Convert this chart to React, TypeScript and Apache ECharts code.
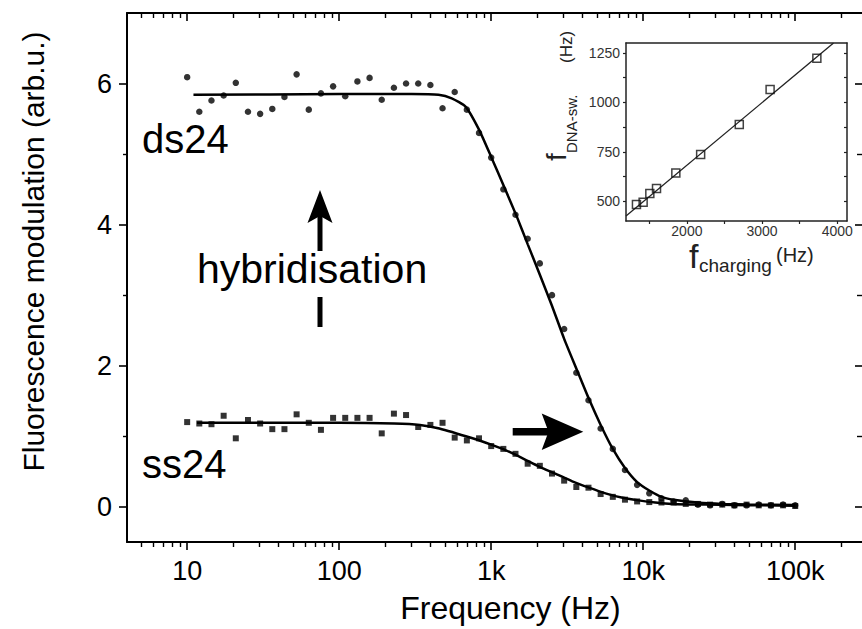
import React, { useEffect, useRef } from 'react';
import * as echarts from 'echarts';

// ---------- main plot data ----------
const freqHz = [
  10, 12.02, 14.45, 17.38, 20.89, 25.12, 30.2, 36.31, 43.65, 52.48,
  63.1, 75.86, 91.2, 109.6, 131.8, 158.5, 190.5, 229.1, 275.4, 331.1,
  398.1, 478.6, 575.4, 691.8, 831.8, 1000, 1202, 1445, 1738, 2089,
  2512, 3020, 3631, 4365, 5248, 6310, 7586, 9120, 10965, 13183,
  15849, 19055, 22909, 27542, 33113, 39811, 47863, 57544, 69183, 83176,
  100000,
];
const ds24 = [
  6.09, 5.6, 5.76, 5.83, 6.01, 5.6, 5.57, 5.64, 5.81, 6.13,
  5.63, 5.86, 5.96, 5.82, 6.03, 6.08, 5.77, 5.94, 6.0, 6.0,
  5.98, 5.65, 5.88, 5.63, 5.3, 4.95, 4.5, 4.14, 3.8, 3.45,
  3.0, 2.52, 1.9, 1.51, 1.11, 0.82, 0.52, 0.31, 0.19, 0.12,
  0.075, 0.09, 0.03, 0.02, 0.04, 0.02, 0.02, 0.03, 0.02, 0.03,
  0.02,
];
const ss24 = [
  1.2, 1.18, 1.17, 1.29, 0.97, 1.23, 1.18, 1.1, 1.1, 1.31,
  1.19, 1.09, 1.26, 1.26, 1.26, 1.26, 1.04, 1.32, 1.3, 1.13,
  1.16, 1.19, 0.98, 0.94, 0.97, 0.86, 0.82, 0.75, 0.61, 0.58,
  0.47, 0.37, 0.28, 0.27, 0.18, 0.14, 0.1, 0.075, 0.066, 0.06,
  0.06, 0.04, 0.04, 0.03, 0.03, 0.02, 0.03, 0.02, 0.02, 0.02,
  0.01,
];
const ds24FitF = [
  11, 100, 300, 450, 550, 680, 830, 1000, 1220, 1470, 1740, 2090, 2510,
  3020, 3630, 4370, 5250, 6310, 7590, 9120, 10970, 13180, 15850, 22900,
  33000, 50000, 100000,
];
const ds24FitV = [
  5.84, 5.85, 5.85, 5.84, 5.79, 5.67, 5.35, 4.96, 4.53, 4.12, 3.72, 3.29, 2.85,
  2.38, 1.96, 1.54, 1.16, 0.82, 0.55, 0.35, 0.23, 0.14, 0.1, 0.06,
  0.04, 0.03, 0.025,
];
const ss24FitF = [
  11.6, 100, 230, 340, 456, 754, 1000, 1250, 1600, 2065, 2700, 3415, 4400,
  5650, 7200, 9330, 12000, 15450, 25600, 100000,
];
const ss24FitV = [
  1.19, 1.19, 1.18, 1.16, 1.11, 0.97, 0.88, 0.8, 0.69, 0.57, 0.46, 0.36, 0.27,
  0.19, 0.13, 0.09, 0.06, 0.04, 0.03, 0.015,
];

// ---------- main axes ----------
const xMajorTicks = [10, 100, 1000, 10000, 100000];
const xTickLabels = ['10', '100', '1k', '10k', '100k'];
const xMinorTicks = [
  5, 6, 7, 8, 9, 20, 30, 40, 50, 60, 70, 80, 90,
  200, 300, 400, 500, 600, 700, 800, 900,
  2000, 3000, 4000, 5000, 6000, 7000, 8000, 9000,
  20000, 30000, 40000, 50000, 60000, 70000, 80000, 90000, 200000,
];
const yMajorTicks = [0, 2, 4, 6];
const yMinorTicks = [1, 3, 5];

// ---------- inset data ----------
const insetCharging = [1329, 1418, 1507, 1596, 1853, 2183, 2697, 3107, 3729];
const insetDnaSw = [483, 495, 539, 564, 643, 736, 888, 1065, 1223];
const insetFitX = [1190, 3951];
const insetFitY = [425, 1300];
const insetXLabels = [2000, 3000, 4000];
const insetXTicks = [1500, 2000, 2500, 3000, 3500, 4000];
const insetYLabels = [500, 750, 1000, 1250];
const insetYTicks = [500, 625, 750, 875, 1000, 1125, 1250];

const FONT = '"Liberation Sans", Arial, Helvetica, sans-serif';

function txt(x: number, y: number, text: string, size: number, extra: any = {}) {
  return {
    type: 'text',
    x,
    y,
    rotation: extra.rotation || 0,
    z: 100,
    style: {
      text,
      fill: extra.fill || '#000',
      font: `${size}px ${FONT}`,
      textAlign: extra.align || 'left',
      align: extra.align || 'left',
      textVerticalAlign: 'middle',
      verticalAlign: 'middle',
    },
  };
}

export default function App() {
  const ref = useRef<HTMLDivElement>(null);

  useEffect(() => {
    if (!ref.current) return;
    const chart = echarts.init(ref.current, undefined, { renderer: 'svg' });

    const axisLine = { show: true, onZero: false, lineStyle: { color: '#000', width: 2 } };
    const noLine = { show: false, onZero: false };
    const xLogBase = { type: 'log', logBase: 10, min: 4.02, max: 275000, gridIndex: 0, splitLine: { show: false } };
    const yBase = { type: 'value', min: -0.5, max: 7, gridIndex: 0, splitLine: { show: false } };
    const insetLine = { show: true, onZero: false, lineStyle: { color: '#222', width: 1.5 } };

    const option: any = {
      animation: false,
      backgroundColor: '#fff',
      grid: [
        { left: 127, top: 13, width: 737, height: 530, containLabel: false },
        { left: 626, top: 43, width: 221, height: 178, containLabel: false },
      ],
      xAxis: [
        {
          ...xLogBase,
          position: 'bottom',
          axisLine,
          axisTick: { show: true, customValues: xMajorTicks, length: 8, lineStyle: { color: '#000', width: 1.6 } },
          axisLabel: {
            show: true,
            customValues: xMajorTicks,
            formatter: (v: number) => {
              const i = xMajorTicks.findIndex((t) => Math.abs(t - v) / t < 1e-6);
              return i >= 0 ? xTickLabels[i] : '';
            },
            fontSize: 27,
            fontFamily: FONT,
            color: '#000',
            margin: 15,
          },
          name: 'Frequency (Hz)',
          nameLocation: 'middle',
          nameGap: 50,
          nameTextStyle: { fontSize: 32, fontFamily: FONT, color: '#000', padding: [0, 0, 0, 32] },
        },
        {
          ...xLogBase,
          position: 'bottom',
          axisLine: noLine,
          axisTick: { show: true, customValues: xMinorTicks, length: 5, lineStyle: { color: '#000', width: 1.4 } },
          axisLabel: { show: false },
        },
        {
          ...xLogBase,
          position: 'top',
          axisLine,
          axisTick: { show: true, inside: true, customValues: xMajorTicks, length: 8, lineStyle: { color: '#000', width: 1.6 } },
          axisLabel: { show: false },
        },
        {
          ...xLogBase,
          position: 'top',
          axisLine: noLine,
          axisTick: { show: true, inside: true, customValues: xMinorTicks, length: 5, lineStyle: { color: '#000', width: 1.4 } },
          axisLabel: { show: false },
        },
        {
          type: 'value',
          gridIndex: 1,
          min: 1190,
          max: 4130,
          position: 'bottom',
          axisLine: insetLine,
          axisTick: { show: true, customValues: insetXTicks, length: 3, lineStyle: { color: '#222', width: 1.2 } },
          axisLabel: {
            show: true,
            customValues: insetXLabels,
            formatter: (v: number) => String(Math.round(v)),
            fontSize: 14,
            fontFamily: FONT,
            color: '#333',
            margin: 3,
          },
          splitLine: { show: false },
        },
        {
          type: 'value',
          gridIndex: 1,
          min: 1190,
          max: 4130,
          position: 'top',
          axisLine: insetLine,
          axisTick: { show: false },
          axisLabel: { show: false },
          splitLine: { show: false },
        },
      ],
      yAxis: [
        {
          ...yBase,
          position: 'left',
          axisLine,
          axisTick: { show: true, customValues: yMajorTicks, length: 8, lineStyle: { color: '#000', width: 1.6 } },
          axisLabel: { show: true, customValues: yMajorTicks, fontSize: 27, fontFamily: FONT, color: '#000', margin: 15 },
          name: 'Fluorescence modulation (arb.u.)',
          nameLocation: 'middle',
          nameGap: 79,
          nameTextStyle: { fontSize: 30, fontFamily: FONT, color: '#000', padding: [0, 0, 0, 52] },
        },
        {
          ...yBase,
          position: 'left',
          axisLine: noLine,
          axisTick: { show: true, customValues: yMinorTicks, length: 4, lineStyle: { color: '#000', width: 1.4 } },
          axisLabel: { show: false },
        },
        {
          ...yBase,
          position: 'right',
          axisLine: noLine,
          axisTick: { show: true, inside: true, customValues: yMajorTicks, length: 7, lineStyle: { color: '#000', width: 1.6 } },
          axisLabel: { show: false },
        },
        {
          ...yBase,
          position: 'right',
          axisLine: noLine,
          axisTick: { show: true, inside: true, customValues: yMinorTicks, length: 5, lineStyle: { color: '#000', width: 1.4 } },
          axisLabel: { show: false },
        },
        {
          type: 'value',
          gridIndex: 1,
          min: 400,
          max: 1300,
          position: 'left',
          axisLine: insetLine,
          axisTick: { show: true, customValues: insetYTicks, length: 3, lineStyle: { color: '#222', width: 1.2 } },
          axisLabel: {
            show: true,
            customValues: insetYLabels,
            formatter: (v: number) => String(Math.round(v)),
            fontSize: 14,
            fontFamily: FONT,
            color: '#333',
            margin: 6,
          },
          splitLine: { show: false },
        },
        {
          type: 'value',
          gridIndex: 1,
          min: 400,
          max: 1300,
          position: 'right',
          axisLine: insetLine,
          axisTick: { show: true, inside: true, customValues: insetYTicks, length: 3, lineStyle: { color: '#222', width: 1.2 } },
          axisLabel: { show: false },
          splitLine: { show: false },
        },
      ],
      series: [
        {
          name: 'ds24 fit',
          type: 'line',
          xAxisIndex: 0,
          yAxisIndex: 0,
          data: ds24FitF.map((f, i) => [f, ds24FitV[i]]),
          showSymbol: false,
          smooth: 0.2,
          lineStyle: { color: '#000', width: 2.5 },
          z: 3,
        },
        {
          name: 'ss24 fit',
          type: 'line',
          xAxisIndex: 0,
          yAxisIndex: 0,
          data: ss24FitF.map((f, i) => [f, ss24FitV[i]]),
          showSymbol: false,
          smooth: 0.2,
          lineStyle: { color: '#000', width: 2.5 },
          z: 3,
        },
        {
          name: 'ds24',
          type: 'scatter',
          xAxisIndex: 0,
          yAxisIndex: 0,
          data: freqHz.map((f, i) => [f, ds24[i]]),
          symbol: 'circle',
          symbolSize: 6.5,
          itemStyle: { color: '#000' },
          z: 4,
        },
        {
          name: 'ss24',
          type: 'scatter',
          xAxisIndex: 0,
          yAxisIndex: 0,
          data: freqHz.map((f, i) => [f, ss24[i]]),
          symbol: 'rect',
          symbolSize: 6,
          itemStyle: { color: '#000' },
          z: 4,
        },
        {
          name: 'inset fit',
          type: 'line',
          xAxisIndex: 4,
          yAxisIndex: 4,
          data: insetFitX.map((x, i) => [x, insetFitY[i]]),
          showSymbol: false,
          lineStyle: { color: '#222', width: 1.3 },
          z: 3,
        },
        {
          name: 'inset',
          type: 'scatter',
          xAxisIndex: 4,
          yAxisIndex: 4,
          data: insetCharging.map((x, i) => [x, insetDnaSw[i]]),
          symbol: 'rect',
          symbolSize: 8,
          itemStyle: { color: 'transparent', borderColor: '#111', borderWidth: 1.5 },
          z: 4,
        },
      ],
      graphic: [
        txt(142, 139, 'ds24', 40),
        txt(142, 464, 'ss24', 40),
        txt(197, 269, 'hybridisation', 41),
        // up arrow (dashed)
        { type: 'polygon', z: 100, shape: { points: [[320, 190], [307.5, 223], [320, 216], [332.5, 223]] }, style: { fill: '#000' } },
        { type: 'rect', z: 100, shape: { x: 317.5, y: 216, width: 5, height: 35 }, style: { fill: '#000' } },
        { type: 'rect', z: 100, shape: { x: 317.5, y: 297, width: 5, height: 30 }, style: { fill: '#000' } },
        // right arrow
        { type: 'rect', z: 100, shape: { x: 512.7, y: 428, width: 37, height: 7.5 }, style: { fill: '#000' } },
        { type: 'polygon', z: 100, shape: { points: [[583.3, 431.7], [541.7, 413.5], [548.5, 431.7], [541.7, 450]] }, style: { fill: '#000' } },
        // inset x title
        txt(689, 268 - 0.35 * 34, 'f', 34, { fill: '#222' }),
        txt(699, 272 - 0.35 * 19, 'charging', 19, { fill: '#222' }),
        txt(776, 262 - 0.35 * 20, '(Hz)', 20, { fill: '#222' }),
        // inset y title (rotated, reading upwards)
        txt(566 - 0.35 * 28, 161, 'f', 28, { fill: '#222', rotation: Math.PI / 2 }),
        txt(577 - 0.35 * 15, 153, 'DNA-sw.', 15, { fill: '#222', rotation: Math.PI / 2 }),
        txt(572 - 0.35 * 17, 63, '(Hz)', 17, { fill: '#222', rotation: Math.PI / 2 }),
      ],
    };

    chart.setOption(option);
    return () => chart.dispose();
  }, []);

  return (
    <div
      ref={ref}
      style={{ position: 'fixed', left: 0, top: 0, width: 862, height: 629, background: '#fff' }}
    />
  );
}
